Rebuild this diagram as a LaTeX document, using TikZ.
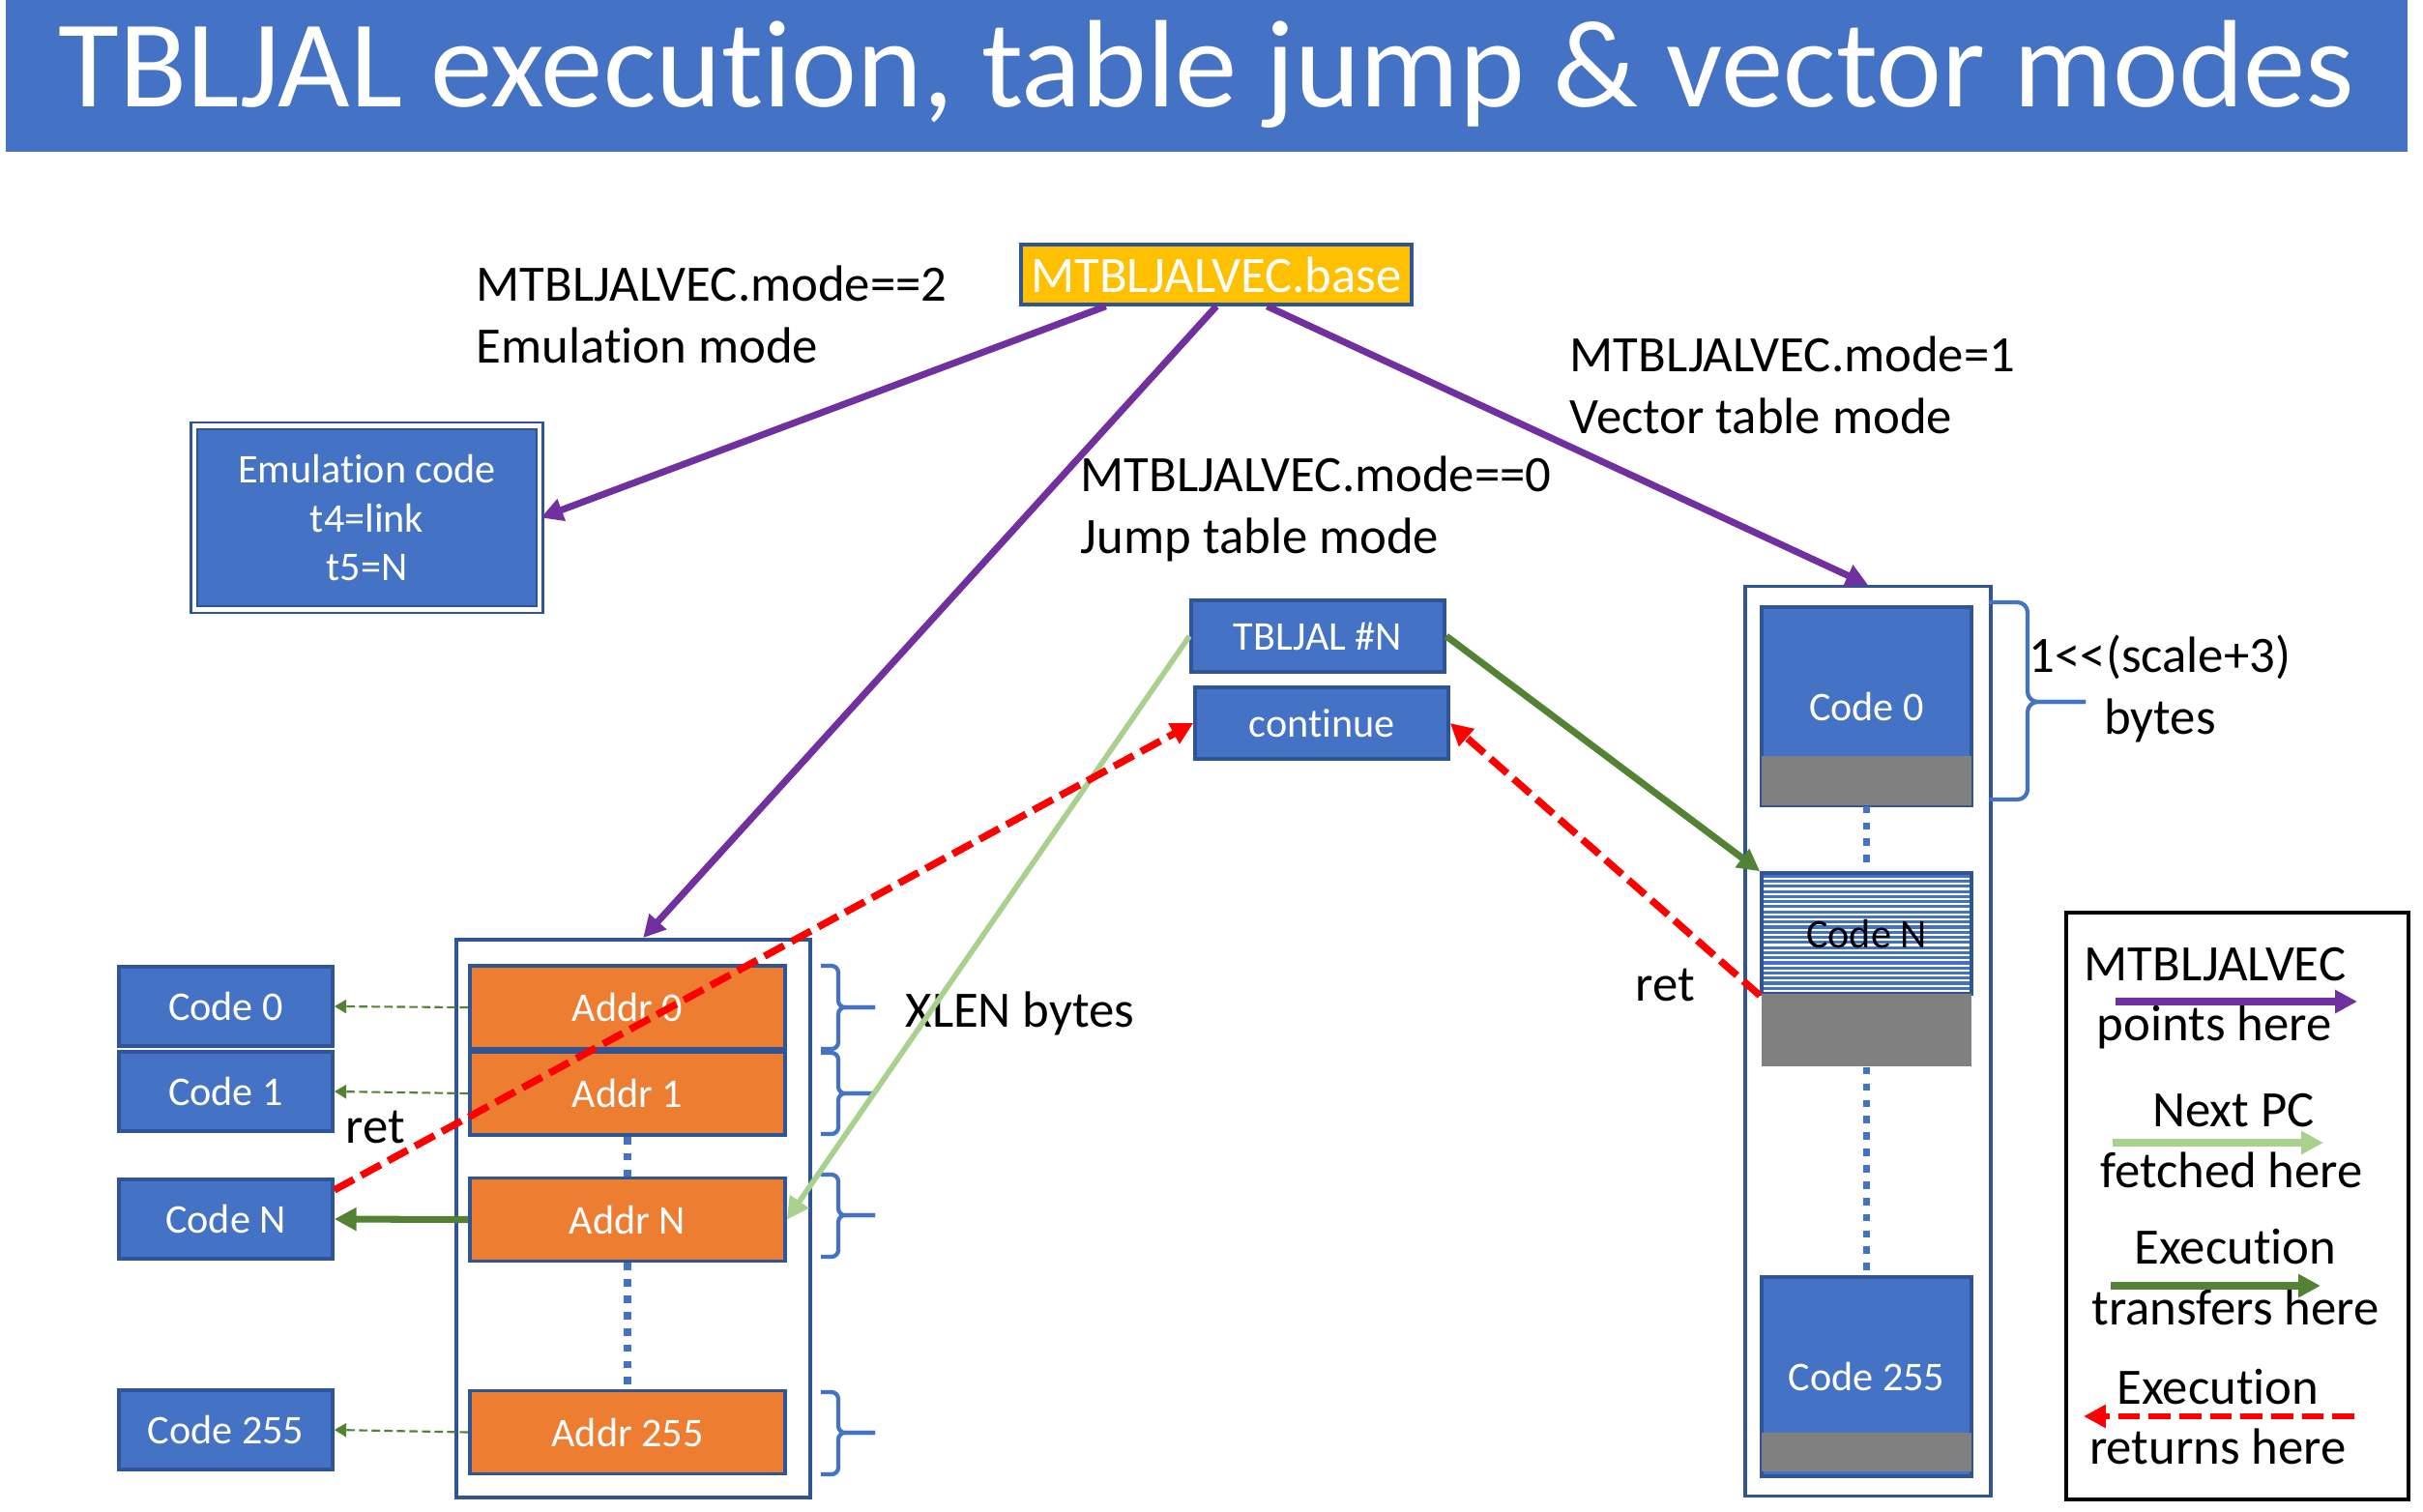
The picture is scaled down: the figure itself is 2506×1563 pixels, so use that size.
\documentclass[tikz,border=0pt]{standalone}
\usepackage{fontspec}
\setmainfont{Carlito}[Ligatures=NoCommon]
\usetikzlibrary{arrows.meta,patterns.meta}

\definecolor{boxblue}{HTML}{4472C4}
\definecolor{boxedge}{HTML}{2F5597}
\definecolor{addrorange}{HTML}{ED7D31}
\definecolor{basegold}{HTML}{FFC000}
\definecolor{ptrpurple}{HTML}{7030A0}
\definecolor{jumpgreen}{HTML}{548235}
\definecolor{fetchgreen}{HTML}{A9D18E}
\definecolor{padgray}{HTML}{808080}

% thin horizontal stripes for the selected vector slot
\tikzdeclarepattern{
  name=codelines,
  type=uncolored,
  bottom left={(-.1pt,-.1pt)},
  top right={(1.1pt,1.6pt)},
  tile size={(1pt,1.5pt)},
  code={\fill (-.1pt,0.3pt) rectangle (1.1pt,1.2pt);}
}

\begin{document}
\begin{tikzpicture}[x=0.01cm, y=-0.01cm,
    codebox/.style={draw=boxedge, line width=1pt, fill=boxblue, text=white, inner sep=0pt, font=\fontsize{12}{14.4}\selectfont},
    addrbox/.style={codebox, fill=addrorange, minimum width=3.26cm, minimum height=0.86cm},
    leftcode/.style={codebox, minimum width=2.21cm, minimum height=0.82cm},
    vcode/.style={codebox, minimum width=2.17cm},
    padblk/.style={fill=padgray, inner sep=0pt, minimum width=2.17cm},
    memtab/.style={draw=boxedge, line width=1pt, inner sep=0pt},
    lbl/.style={font=\fontsize{15}{18.2}\selectfont, inner sep=0pt, align=left},
    lgtext/.style={lbl, anchor=base},
    ptr/.style={ptrpurple, line width=2pt, -{Triangle[length=6.5pt,width=6.5pt]}},
    fetch/.style={fetchgreen, line width=1.6pt, -{Triangle[length=6.5pt,width=6.5pt]}},
    jump/.style={jumpgreen, line width=2pt, -{Triangle[length=6.5pt,width=6.5pt]}},
    retn/.style={red, line width=2.1pt, dash pattern=on 6.5pt off 2.5pt, -{Triangle[length=6.5pt,width=6.5pt]}},
    slot/.style={jumpgreen, line width=0.6pt, dash pattern=on 2.5pt off 1.2pt, -{Triangle[length=3.5pt,width=4pt]}},
    skipdots/.style={boxblue, line width=2.2pt, dash pattern=on 2.2pt off 2.6pt},
    sidebrace/.style={boxblue, line width=1.2pt, rounded corners=2pt}]

\useasboundingbox (0,0) rectangle (2506,1563);

% title bar
\fill[boxblue] (6,0) rectangle (2490,157);
\node[font=\fontsize{36.6}{40}\selectfont, text=white, anchor=base, inner sep=0pt] (title) at (1248,110) {TBLJAL execution, table jump \& vector modes};

% base register and the three modes
\node[draw=boxedge, line width=1pt, fill=basegold, text=white, inner sep=0pt, minimum width=4.04cm, minimum height=0.62cm, font=\fontsize{15}{18}\selectfont] (base) at (1258,284) {MTBLJALVEC.base};
\node[lbl, anchor=base west] (mode2) at (492,375) {MTBLJALVEC.mode==2\\Emulation mode};
\node[lbl, anchor=base west] (mode0) at (1117,572) {MTBLJALVEC.mode==0\\Jump table mode};
\node[lbl, anchor=base west] (mode1) at (1623,448) {MTBLJALVEC.mode=1\\Vector table mode};

\node[codebox, line width=0.7pt, double=white, double distance=1.2pt, minimum width=3.57cm, minimum height=1.9cm, align=center] (emul) at (379.5,535.5) {Emulation code\\t4=link\\t5=N};

% the instruction and its successor
\node[codebox, minimum width=2.62cm, minimum height=0.74cm] (tbljal) at (1363,658) {TBLJAL \#N};
\node[codebox, minimum width=2.62cm, minimum height=0.74cm] (cont) at (1367,748) {continue};

% jump table
\node[memtab, minimum width=3.66cm, minimum height=5.77cm] (jtab) at (655,1260.5) {};
\node[addrbox] (addr0) at (649,1042) {Addr 0};
\node[addrbox] (addr1) at (649,1131) {Addr 1};
\node[addrbox] (addrN) at (649,1261.5) {Addr N};
\node[addrbox] (addr255) at (649,1481.5) {Addr 255};

\node[leftcode] (code0) at (233.5,1041) {Code 0};
\node[leftcode] (code1) at (233.5,1129) {Code 1};
\node[leftcode] (codeN) at (233.5,1261) {Code N};
\node[leftcode] (code255) at (233.5,1479) {Code 255};

\draw[skipdots] (addr1) -- (addrN);
\draw[skipdots] (addrN) -- (addr255);

\draw[sidebrace] (849,999) -| (867,1042) -- (905,1042);
\draw[sidebrace] (849,1085) -| (867,1042) -- (905,1042);
\draw[sidebrace] (849,1089) -| (867,1131) -- (905,1131);
\draw[sidebrace] (849,1173) -| (867,1131) -- (905,1131);
\draw[sidebrace] (849,1215) -| (867,1257) -- (905,1257);
\draw[sidebrace] (849,1300) -| (867,1257) -- (905,1257);
\draw[sidebrace] (849,1440) -| (867,1482) -- (905,1482);
\draw[sidebrace] (849,1525) -| (867,1482) -- (905,1482);
\node[lbl, anchor=base west] (xlen) at (936,1062) {XLEN bytes};

% vector table
\node[memtab, minimum width=2.54cm, minimum height=9.4cm] (vtab) at (1932,1077) {};
\node[vcode, minimum height=2.05cm] (vcode0) at (1930.5,730.5) {Code 0};
\node[padblk, minimum height=0.51cm] (pad0) at (1930.5,807.5) {};
\node[draw=boxedge, line width=1pt, pattern=codelines, pattern color=boxblue, inner sep=0pt, minimum width=2.17cm, minimum height=1.25cm, font=\fontsize{12}{14.4}\selectfont] (vcodeN) at (1930.5,965.5) {Code N};
\node[padblk, minimum height=0.75cm] (padN) at (1930.5,1065.5) {};
\node[vcode, minimum height=2.06cm] (vcode255) at (1930.5,1424) {Code 255};
\node[padblk, minimum height=0.40cm] (pad255) at (1930.5,1502) {};

\draw[skipdots] (pad0) -- (vcodeN);
\draw[skipdots] (padN) -- (vcode255);

\draw[sidebrace, rounded corners=3pt] (2057,623) -| (2097,726) -- (2157,726);
\draw[sidebrace, rounded corners=3pt] (2057,827) -| (2097,726) -- (2157,726);
\node[lbl, align=center, anchor=base] (scalelbl) at (2234,759) {1<\kern0pt<(scale+3)\\bytes};

% where each mode points
\draw[ptr] (base.196) -- (emul.east);
\draw[ptr] (base.south) -- (jtab.88);
\draw[ptr] (base.-32) -- (vtab.north);

% table entries to their code
\draw[slot] (addr0.west) -- (code0.east);
\draw[slot] (addr1.west) -- (code1.east);
\draw[jump] (addrN.west) -- (codeN.east);
\draw[slot] (addr255.west) -- (code255.east);

% fetch, transfer and return
\draw[fetch] (tbljal.west) -- (addrN.east);
\draw[jump] (tbljal.east) -- (vcodeN.north west);
\draw[retn] (codeN.15) -- (cont.west);
\draw[retn] (vcodeN.south west) -- (cont.east);
\node[lbl, anchor=base west] (retL) at (357,1182) {ret};
\node[lbl, anchor=base west] (retR) at (1691,1035) {ret};

% legend
\node[draw=black, line width=1pt, minimum width=3.54cm, minimum height=6.07cm, inner sep=0pt] (legend) at (2314,1247.5) {};
\node[lgtext] (lgptrA) at (2291,1014) {MTBLJALVEC};
\node[lgtext] (lgptrB) at (2290,1076) {points here};
\node[lgtext] (lgfetchA) at (2310,1165) {Next PC};
\node[lgtext] (lgfetchB) at (2308,1228) {fetched here};
\node[lgtext] (lgjumpA) at (2312,1307) {Execution};
\node[lgtext] (lgjumpB) at (2312,1370) {transfers here};
\node[lgtext] (lgretA) at (2294,1452) {Execution};
\node[lgtext] (lgretB) at (2294,1514) {returns here};

\coordinate (lgp1) at (2188,1036);
\coordinate (lgp2) at (2438,1036);
\coordinate (lgf1) at (2185,1182);
\coordinate (lgf2) at (2403,1182);
\coordinate (lgj1) at (2183,1330);
\coordinate (lgj2) at (2400,1330);
\coordinate (lgr1) at (2435,1465);
\coordinate (lgr2) at (2155,1465);
\draw[ptr, line width=2.2pt] (lgp1) -- (lgp2);
\draw[fetch, line width=2.2pt] (lgf1) -- (lgf2);
\draw[jump, line width=2.2pt] (lgj1) -- (lgj2);
\draw[retn, line width=1.8pt] (lgr1) -- (lgr2);

\end{tikzpicture}
\end{document}
